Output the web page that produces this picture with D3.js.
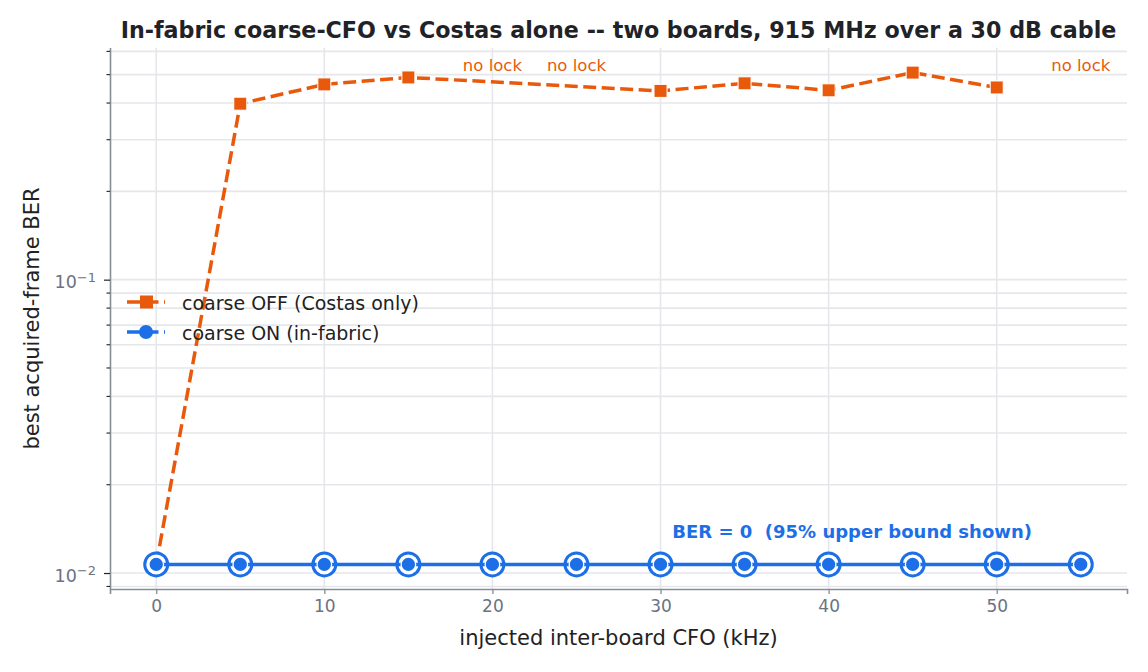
<!DOCTYPE html>
<html>
<head>
<meta charset="utf-8">
<script src="https://cdn.jsdelivr.net/npm/d3@7"></script>
<style>
  body { margin: 0; background: #fff; }
  svg { font-family: "DejaVu Sans", sans-serif; }
</style>
</head>
<body>
<div id="chart"></div>
<script>
// CFO steps in kHz
const cfoKHz = [0, 5, 10, 15, 20, 25, 30, 35, 40, 45, 50, 55];
// best acquired-frame BER, null = no lock
const berCoarseOff = [0.0107, 0.398, 0.463, 0.489, null, null, 0.44, 0.467, 0.442, 0.508, 0.452, null];
// BER = 0 everywhere, plotted at the 95% upper bound
const berCoarseOn = [0.0107, 0.0107, 0.0107, 0.0107, 0.0107, 0.0107, 0.0107, 0.0107, 0.0107, 0.0107, 0.0107, 0.0107];
const xTicks = [0, 10, 20, 30, 40, 50];
const yMajor = [0.01, 0.1];

const orange = "#e8590c";
const blue = "#1c6fe6";

const width = 1148, height = 672;
const margin = { top: 48, right: 21, bottom: 83, left: 110 };

const svg = d3.select("#chart").append("svg")
    .attr("width", width)
    .attr("height", height);

// matplotlib-like 5% margins
const xPad = (55 - 0) * 0.05;
const x = d3.scaleLinear()
    .domain([0 - xPad, 55 + xPad])
    .range([margin.left, width - margin.right]);

const allY = berCoarseOff.concat(berCoarseOn).filter(v => v != null);
const lo = Math.log10(d3.min(allY)), hi = Math.log10(d3.max(allY));
const yPad = (hi - lo) * 0.05;
const y = d3.scaleLog()
    .domain([Math.pow(10, lo - yPad), Math.pow(10, hi + yPad)])
    .range([height - margin.bottom, margin.top]);

// minor ticks 2..9 x decade, inside the domain
const yMinor = [];
[0.001, 0.01, 0.1].forEach(dec => {
    for (let k = 2; k <= 9; k++) {
        const v = dec * k;
        if (v >= y.domain()[0] && v <= y.domain()[1]) yMinor.push(v);
    }
});

const grid = svg.append("g");
grid.selectAll(".gy")
    .data(yMajor.concat(yMinor))
    .enter().append("line")
    .attr("x1", margin.left).attr("x2", width - margin.right)
    .attr("y1", d => y(d)).attr("y2", d => y(d))
    .attr("stroke", "#e5e7eb").attr("stroke-width", 1.6);
grid.selectAll(".gx")
    .data(xTicks)
    .enter().append("line")
    .attr("x1", d => x(d)).attr("x2", d => x(d))
    .attr("y1", margin.top).attr("y2", height - margin.bottom)
    .attr("stroke", "#e5e7eb").attr("stroke-width", 1.6);

// axes
const axisColor = "#868d96";
const tickText = "#6b7280";

const xAxis = svg.append("g")
    .attr("transform", `translate(0,${height - margin.bottom})`)
    .call(d3.axisBottom(x).tickValues(xTicks).tickSize(5).tickPadding(6).tickFormat(d3.format("d")));
xAxis.select(".domain").attr("stroke", axisColor).attr("stroke-width", 1.6);
xAxis.selectAll(".tick line").attr("stroke", axisColor).attr("stroke-width", 1.3);
xAxis.selectAll(".tick text").attr("fill", tickText).style("font-size", "17px")
    .style("font-family", "DejaVu Sans");

const yAxis = svg.append("g")
    .attr("transform", `translate(${margin.left},0)`)
    .call(d3.axisLeft(y).tickValues(yMajor).tickSize(6).tickPadding(6).tickFormat(""));
yAxis.select(".domain").attr("stroke", axisColor).attr("stroke-width", 1.6)
    .attr("d", `M0.5,${height - margin.bottom}V${margin.top}`);
yAxis.selectAll(".tick line").attr("stroke", "#222").attr("stroke-width", 1.2);
yAxis.selectAll(".tick").append("text")
    .attr("x", -14).attr("y", 2).attr("dy", "0.35em")
    .attr("text-anchor", "end")
    .attr("fill", tickText)
    .style("font-size", "17.5px")
    .style("font-family", "DejaVu Sans")
    .each(function (d) {
        const t = d3.select(this);
        t.append("tspan").text("10");
        t.append("tspan").attr("dy", "-0.5em").style("font-size", "13px")
            .text("\u2212" + Math.round(-Math.log10(d)));
    });
svg.append("g").selectAll("line")
    .data(yMinor)
    .enter().append("line")
    .attr("x1", margin.left - 3.5).attr("x2", margin.left)
    .attr("y1", d => y(d)).attr("y2", d => y(d))
    .attr("stroke", "#222").attr("stroke-width", 1.1);

// series
const lineGen = d3.line()
    .x(d => x(d.x))
    .y(d => y(d.y));

const offPts = cfoKHz.map((c, i) => ({ x: c, y: berCoarseOff[i] })).filter(d => d.y != null);
const onPts = cfoKHz.map((c, i) => ({ x: c, y: berCoarseOn[i] }));

svg.append("path")
    .datum(offPts)
    .attr("d", lineGen)
    .attr("fill", "none")
    .attr("stroke", orange)
    .attr("stroke-width", 3.5)
    .attr("stroke-dasharray", "13,5.5");
svg.append("g").selectAll("rect")
    .data(offPts)
    .enter().append("rect")
    .attr("x", d => x(d.x) - 6.5).attr("y", d => y(d.y) - 6.5)
    .attr("width", 13).attr("height", 13)
    .attr("fill", orange).attr("stroke", "#fff").attr("stroke-width", 1);

// ring markers for upper-bound points
svg.append("g").selectAll("circle")
    .data(onPts)
    .enter().append("circle")
    .attr("cx", d => x(d.x)).attr("cy", d => y(d.y))
    .attr("r", 11.5)
    .attr("fill", "#fff").attr("stroke", blue).attr("stroke-width", 3);
svg.append("path")
    .datum(onPts)
    .attr("d", lineGen)
    .attr("fill", "none")
    .attr("stroke", blue)
    .attr("stroke-width", 3.5);
svg.append("g").selectAll("circle")
    .data(onPts)
    .enter().append("circle")
    .attr("cx", d => x(d.x)).attr("cy", d => y(d.y))
    .attr("r", 7.3)
    .attr("fill", blue).attr("stroke", "#fff").attr("stroke-width", 1.3);

// annotations
svg.append("g").selectAll("text")
    .data(cfoKHz.filter((c, i) => berCoarseOff[i] == null))
    .enter().append("text")
    .attr("x", d => x(d)).attr("y", 71)
    .attr("text-anchor", "middle")
    .attr("fill", orange)
    .style("font-size", "16.5px")
    .text("no lock");

svg.append("text")
    .attr("x", x(30.7)).attr("y", 538)
    .attr("fill", blue)
    .attr("xml:space", "preserve")
    .style("white-space", "pre")
    .style("font-size", "18px")
    .style("font-weight", "bold")
    .text("BER = 0  (95% upper bound shown)");

// legend
const legend = svg.append("g").attr("transform", "translate(127,302)");
legend.append("line").attr("x1", 0).attr("x2", 38).attr("y1", 0).attr("y2", 0)
    .attr("stroke", orange).attr("stroke-width", 3.5).attr("stroke-dasharray", "13,5.5");
legend.append("rect").attr("x", 13).attr("y", -6.5).attr("width", 13).attr("height", 13)
    .attr("fill", orange);
legend.append("text").attr("x", 55).attr("y", 1).attr("dy", "0.35em")
    .attr("fill", "#222").style("font-size", "19px").text("coarse OFF (Costas only)");
legend.append("line").attr("x1", 0).attr("x2", 38).attr("y1", 30).attr("y2", 30)
    .attr("stroke", blue).attr("stroke-width", 3.5).attr("stroke-dasharray", "13,5.5");
legend.append("circle").attr("cx", 19).attr("cy", 30).attr("r", 7).attr("fill", blue);
legend.append("text").attr("x", 55).attr("y", 31).attr("dy", "0.35em")
    .attr("fill", "#222").style("font-size", "19px").text("coarse ON (in-fabric)");

// titles
svg.append("text")
    .attr("x", (margin.left + width - margin.right) / 2).attr("y", 38)
    .attr("text-anchor", "middle")
    .attr("fill", "#1f2328")
    .style("font-size", "22.2px")
    .style("font-weight", "bold")
    .text("In-fabric coarse-CFO vs Costas alone -- two boards, 915 MHz over a 30 dB cable");

svg.append("text")
    .attr("x", (margin.left + width - margin.right) / 2).attr("y", 645)
    .attr("text-anchor", "middle")
    .attr("fill", "#222")
    .style("font-size", "21px")
    .text("injected inter-board CFO (kHz)");

svg.append("text")
    .attr("transform", `translate(39,${(margin.top + height - margin.bottom) / 2}) rotate(-90)`)
    .attr("text-anchor", "middle")
    .attr("fill", "#222")
    .style("font-size", "21px")
    .text("best acquired-frame BER");
</script>
</body>
</html>
